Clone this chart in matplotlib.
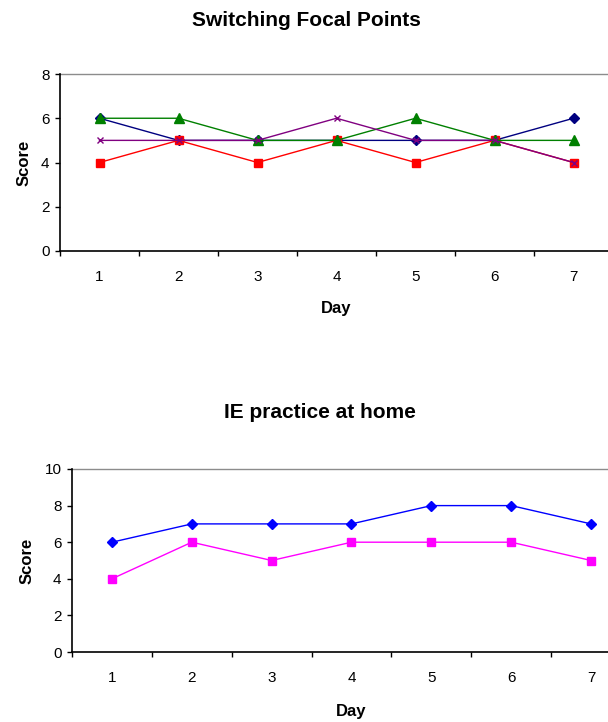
import matplotlib
matplotlib.use("Agg")
import matplotlib.pyplot as plt

plt.rcParams['font.family'] = ['Liberation Sans', 'DejaVu Sans']

days = [1, 2, 3, 4, 5, 6, 7]
day_labels = ["1", "2", "3", "4", "5", "6", "7"]

# Switching Focal Points
focal_blue = [6, 5, 5, 5, 5, 5, 6]
focal_red = [4, 5, 4, 5, 4, 5, 4]
focal_green = [6, 6, 5, 5, 6, 5, 5]
focal_purple = [5, 5, 5, 6, 5, 5, 4]
focal_yticks = [0, 2, 4, 6, 8]

# IE practice at home
home_blue = [6, 7, 7, 7, 8, 8, 7]
home_magenta = [4, 6, 5, 6, 6, 6, 5]
home_yticks = [0, 2, 4, 6, 8, 10]

W, H = 608, 722
fig = plt.figure(figsize=(W / 100, H / 100), dpi=100)


def px_axes(left, top, right, bottom):
    return fig.add_axes([left / W, 1 - bottom / H, (right - left) / W, (bottom - top) / H])


def style_axes(ax, yticks, title, title_xy, xlabel_pad):
    n = len(days)
    ax.set_xlim(0.5, n + 0.5)
    ax.set_ylim(yticks[0], yticks[-1])
    ax.set_yticks(yticks)
    ax.set_yticklabels([str(v) for v in yticks], fontsize=11)
    # category labels centred, ticks on category boundaries
    ax.set_xticks(days)
    ax.set_xticklabels(day_labels, fontsize=11)
    ax.set_xticks([d + 0.5 for d in [0] + days], minor=True)
    ax.tick_params(axis='x', which='major', length=0, pad=14)
    ax.tick_params(axis='x', which='minor', length=3.5, width=1, direction='out', color='black')
    ax.tick_params(axis='y', length=3.5, width=1, direction='out', pad=4)
    for s in ['top', 'right']:
        ax.spines[s].set_visible(False)
    for s in ['left', 'bottom']:
        ax.spines[s].set_linewidth(1.2)
        ax.spines[s].set_color('black')
    ax.axhline(yticks[-1], color='#8c8c8c', lw=1.0, clip_on=False, zorder=1)
    ax.set_xlabel('Day', fontsize=12, fontweight='bold', labelpad=xlabel_pad)
    ax.set_ylabel('Score', fontsize=12, fontweight='bold', labelpad=7)
    fig.text(title_xy[0] / W, 1 - title_xy[1] / H, title, fontsize=15,
             fontweight='bold', ha='center', va='center')


ax1 = px_axes(60, 74, 613, 251)
lw = 1.0
ax1.plot(days, focal_blue, color='#000080', lw=lw, marker='D', ms=5.5, zorder=3)
ax1.plot(days, focal_red, color='#FF0000', lw=lw, marker='s', ms=6, zorder=3)
ax1.plot(days, focal_green, color='#008000', lw=lw, marker='^', ms=7, zorder=3)
ax1.plot(days, focal_purple, color='#800080', lw=lw, marker='x', ms=5, mew=1.0, zorder=3)
style_axes(ax1, focal_yticks, 'Switching Focal Points', (306, 20), 12)

ax2 = px_axes(72, 469, 631, 652)
ax2.plot(days, home_blue, color='#0000FF', lw=lw, marker='D', ms=5.5, zorder=3)
ax2.plot(days, home_magenta, color='#FF00FF', lw=lw, marker='s', ms=6, zorder=3)
style_axes(ax2, home_yticks, 'IE practice at home', (320, 412), 13.5)

fig.savefig('out.png', dpi=100)
